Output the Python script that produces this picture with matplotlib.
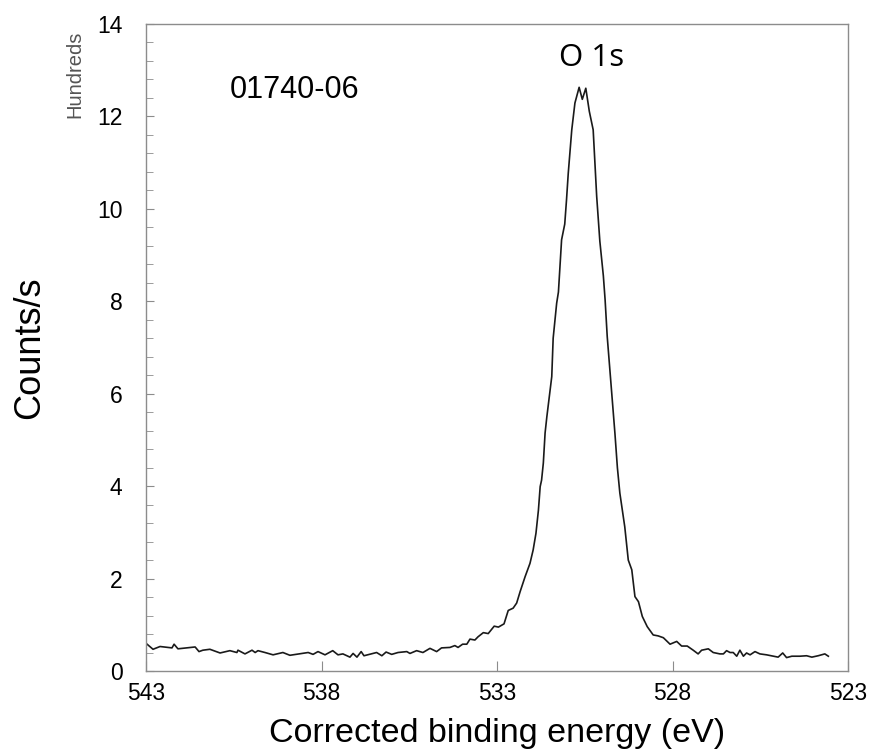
import matplotlib
matplotlib.use("Agg")
import matplotlib.pyplot as plt
from matplotlib.ticker import MultipleLocator

# Binding energy (eV) and counts/s (hundreds)
energy = [543.00, 542.80, 542.60, 542.26, 542.20, 542.09, 541.60, 541.49, 541.38, 541.18,
          540.89, 540.61, 540.41, 540.38, 540.18, 539.98, 539.89, 539.81, 539.61, 539.38,
          539.10, 538.90, 538.38, 538.24, 538.10, 537.90, 537.68, 537.53, 537.39, 537.19,
          537.10, 536.99, 536.87, 536.79, 536.43, 536.28, 536.16, 536.00, 535.82, 535.57,
          535.48, 535.29, 535.11, 534.91, 534.72, 534.58, 534.34, 534.20, 534.11, 533.98,
          533.86, 533.77, 533.63, 533.54, 533.39, 533.25, 533.08, 532.96, 532.80, 532.68,
          532.54, 532.44, 532.34, 532.20, 532.06, 531.97, 531.89, 531.82, 531.77, 531.73,
          531.68, 531.63, 531.58, 531.51, 531.44, 531.40, 531.30, 531.25, 531.21, 531.16,
          531.07, 531.02, 530.97, 530.87, 530.78, 530.66, 530.57, 530.47, 530.37, 530.26,
          530.16, 530.07, 529.97, 529.92, 529.86, 529.83, 529.73, 529.64, 529.57, 529.50,
          529.36, 529.26, 529.16, 529.07, 528.97, 528.86, 528.72, 528.55, 528.41, 528.26,
          528.07, 527.88, 527.74, 527.58, 527.41, 527.27, 527.17, 526.98, 526.84, 526.65,
          526.55, 526.46, 526.36, 526.27, 526.17, 526.08, 525.98, 525.89, 525.79, 525.65,
          525.51, 525.32, 525.13, 524.99, 524.86, 524.75, 524.60, 524.37, 524.18, 524.03,
          523.85, 523.66, 523.56]
counts = [0.60, 0.47, 0.53, 0.50, 0.58, 0.48, 0.52, 0.42, 0.45, 0.47,
          0.39, 0.44, 0.40, 0.45, 0.37, 0.45, 0.40, 0.44, 0.40, 0.35,
          0.40, 0.34, 0.40, 0.36, 0.42, 0.35, 0.44, 0.35, 0.37, 0.30,
          0.38, 0.30, 0.42, 0.33, 0.40, 0.33, 0.41, 0.36, 0.40, 0.42,
          0.38, 0.44, 0.40, 0.49, 0.42, 0.50, 0.51, 0.55, 0.51, 0.58,
          0.58, 0.69, 0.67, 0.74, 0.83, 0.81, 0.97, 0.95, 1.02, 1.31,
          1.36, 1.47, 1.72, 2.04, 2.33, 2.62, 2.98, 3.48, 3.99, 4.13,
          4.50, 5.15, 5.50, 5.94, 6.37, 7.20, 7.96, 8.20, 8.70, 9.33,
          9.67, 10.19, 10.77, 11.71, 12.29, 12.63, 12.37, 12.61, 12.11, 11.71,
          10.27, 9.30, 8.55, 8.03, 7.24, 6.95, 6.00, 5.14, 4.40, 3.85,
          3.12, 2.40, 2.19, 1.61, 1.50, 1.18, 0.96, 0.78, 0.76, 0.72,
          0.58, 0.64, 0.54, 0.54, 0.45, 0.37, 0.45, 0.48, 0.40, 0.37,
          0.37, 0.44, 0.40, 0.40, 0.32, 0.45, 0.32, 0.39, 0.35, 0.42,
          0.37, 0.35, 0.32, 0.30, 0.39, 0.29, 0.32, 0.32, 0.33, 0.30,
          0.33, 0.37, 0.32]

x_ticks = [543, 538, 533, 528, 523]
y_ticks = [0, 2, 4, 6, 8, 10, 12, 14]

plt.rcParams['font.family'] = ['Liberation Sans', 'DejaVu Sans']

fig = plt.figure(figsize=(8.72, 7.56), dpi=100)
ax = fig.add_axes([146/872, 1-671/756, (848-146)/872, (671-24)/756])

ax.plot(energy, counts, color='#1a1a1a', linewidth=1.2)

ax.set_xlim(543, 523)
ax.set_ylim(0, 14)
ax.set_xticks(x_ticks)
ax.set_xticklabels([str(t) for t in x_ticks])
ax.set_yticks(y_ticks)
ax.set_yticklabels([str(t) for t in y_ticks])
ax.yaxis.set_minor_locator(MultipleLocator(0.4))

for s in ax.spines.values():
    s.set_color('#8c8c8c')
    s.set_linewidth(1.0)

ax.tick_params(axis='both', which='both', direction='in', colors='#8c8c8c',
               labelcolor='black', labelsize=16.5, top=False, right=False)
ax.tick_params(axis='y', which='major', length=6, pad=17)
ax.tick_params(axis='y', which='minor', length=5)
ax.tick_params(axis='x', which='major', length=7, pad=8)

ax.set_xlabel('Corrected binding energy (eV)', fontsize=24.5, labelpad=9)
ax.set_ylabel('Counts/s', fontsize=26, labelpad=36)

fig.text(75/872, 1-74/756, 'Hundreds', rotation=90, fontsize=14.5, color='#555555',
         ha='center', va='center')
fig.text(295/872, 1-90/756, '01740-06', fontsize=22, ha='center', va='center')
fig.text(592/872, 1-58/756, 'O 1s', fontsize=22.5, ha='center', va='center',
         family=['Open Sans', 'DejaVu Sans'])

fig.savefig('out.png', dpi=100)
